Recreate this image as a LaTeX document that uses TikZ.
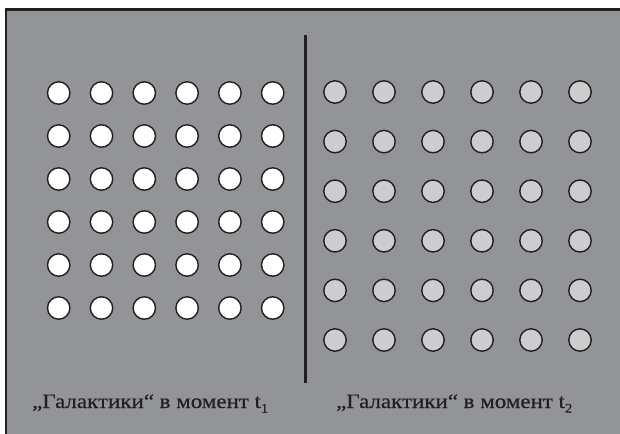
\documentclass[tikz,border=0pt]{standalone}
\usepackage{fontspec}
\setmainfont{Liberation Serif}
\newfontfamily\capfont[FakeStretch=1.12,FakeBold=0.4]{Liberation Serif}

\definecolor{panel}{RGB}{147,148,152}
\definecolor{later}{RGB}{204,205,207}
\definecolor{ink}{RGB}{35,31,32}

\tikzset{
  gal/.style={circle,draw=ink,line width=1.4pt,minimum size=22.4pt,inner sep=0pt},
  caption/.style={font=\capfont\fontsize{20.5}{21}\selectfont,text=ink,anchor=base west,inner sep=0pt}
}
\newcommand{\tsub}[1]{\raisebox{-4.5pt}{\fontsize{13}{13}\selectfont #1}}

\begin{document}
\begin{tikzpicture}[x=1pt,y=-1pt]
	\useasboundingbox (0,0) rectangle (620,433);
	\clip (0,0) rectangle (620,433);
	\draw[fill=panel,draw=ink,line width=2.6pt] (6,9.5) rectangle (640,450);
	% galaxies at t1 and t2
	\foreach \i in {0,...,5}
		\foreach \j in {0,...,5} {
			\node[gal,fill=white] (l\i\j) at ({58.7+42.8*\i},{93+43*\j}) {};
			\node[gal,fill=later] (r\i\j) at ({335+49*\i},{92+49.6*\j}) {};
		}
	\coordinate (divtop) at (305.3,35);
	\coordinate (divbot) at (305.3,383);
	\draw[line width=3.2pt,ink] (divtop) -- (divbot);
	\node[caption] (capA) at (32,408) {„Галактики“ в момент t\tsub{1}};
	\node[caption] (capB) at (336,408) {„Галактики“ в момент t\tsub{2}};
\end{tikzpicture}
\end{document}
